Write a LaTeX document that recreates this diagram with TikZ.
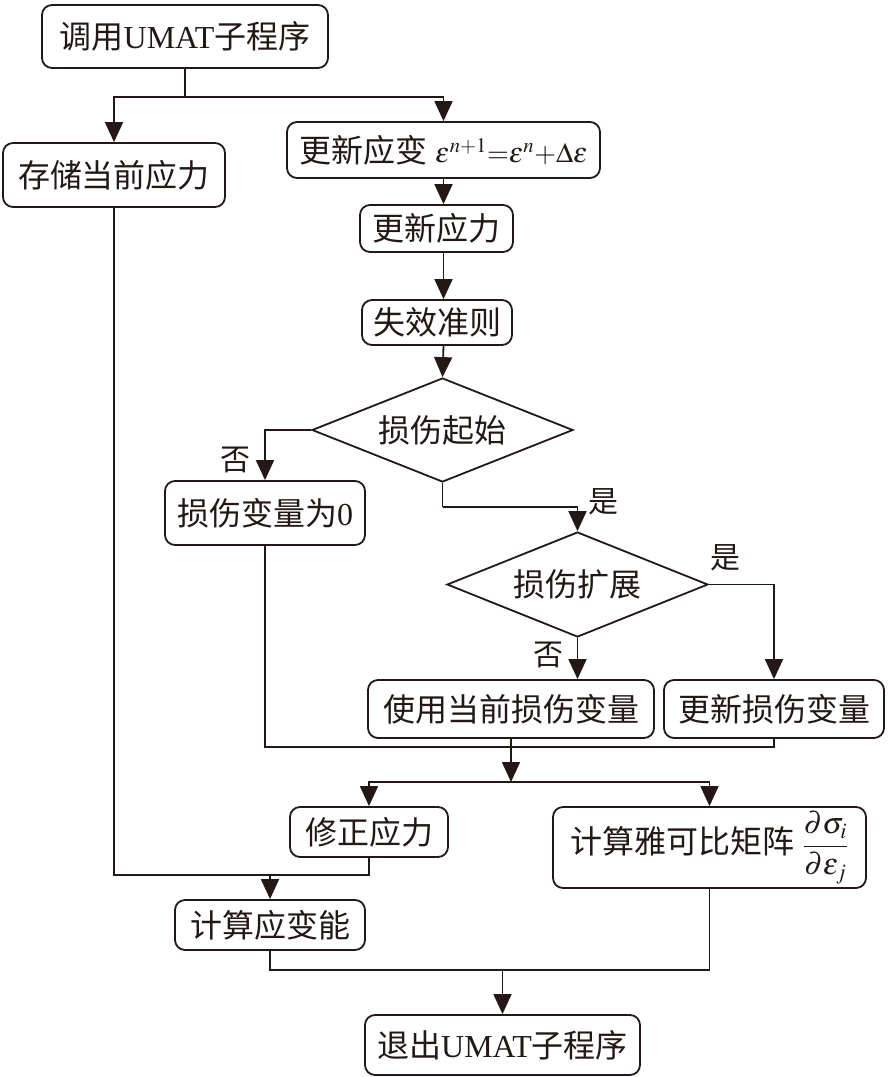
\documentclass[tikz,border=0pt]{standalone}
\usepackage{mathptmx}
\usepackage{fontspec}
\setmainfont{Liberation Serif}
\newfontfamily\cjk{Noto Sans CJK SC}
\usetikzlibrary{shapes.geometric,arrows.meta}
\definecolor{ink}{HTML}{231815}
\begin{document}
\begin{tikzpicture}[x=1pt,y=-1pt,
  box/.style={draw=ink, line width=1.8pt, rounded corners=10pt, inner sep=0pt, font=\fontsize{32}{38}\selectfont, text=ink},
  dia/.style={draw=ink, line width=1.8pt, diamond, shape aspect=2.5, inner sep=0pt, font=\fontsize{32}{38}\selectfont, text=ink},
  ln/.style={draw=ink, line width=1.8pt, line join=miter},
  arr/.style={ln, -{Triangle[width=18pt,length=20pt]}},
  lab/.style={font=\fontsize{30}{36}\selectfont\cjk, text=ink, inner sep=0pt}]
\useasboundingbox (0,0) rectangle (887,1077);
\node[box, minimum width=286pt, minimum height=63pt] (start) at (185,36.5) {{\cjk 调用}UMAT{\cjk 子程序}};
\node[box, minimum width=222pt, minimum height=64pt] (store) at (114,175) {\cjk 存储当前应力};
\node[box, minimum width=313pt, minimum height=56pt] (strain) at (443.5,150) {{\cjk 更新应变} {\fontsize{28}{34}\selectfont$\varepsilon^{n+1}{=}\varepsilon^{n}{+}\Delta\varepsilon$}};
\node[box, minimum width=153pt, minimum height=47pt] (stress) at (436.5,228.5) {\cjk 更新应力};
\node[box, minimum width=150pt, minimum height=45pt] (fail) at (437,322.5) {\cjk 失效准则};
\node[dia, minimum width=261pt, minimum height=104pt] (d1) at (442.5,430) {\cjk 损伤起始};
\node[box, minimum width=200pt, minimum height=64pt] (zero) at (265,513) {{\cjk 损伤变量为}0};
\node[dia, minimum width=261pt, minimum height=105pt] (d2) at (577.5,584.5) {\cjk 损伤扩展};
\node[box, minimum width=286pt, minimum height=58pt] (use) at (511,709) {\cjk 使用当前损伤变量};
\node[box, minimum width=220pt, minimum height=58pt] (upd) at (774,709) {\cjk 更新损伤变量};
\node[box, minimum width=158pt, minimum height=50pt] (fix) at (369,832) {\cjk 修正应力};
\node[box, minimum width=313pt, minimum height=81pt] (jac) at (709.5,847.5) {{\cjk 计算雅可比矩阵} {\fontsize{30}{36}\selectfont$\displaystyle\frac{\partial\sigma_i}{\partial\varepsilon_j}$}};
\node[box, minimum width=190pt, minimum height=50pt] (energy) at (270,925) {\cjk 计算应变能};
\node[box, minimum width=275pt, minimum height=60pt] (exit) at (502.5,1045) {{\cjk 退出}UMAT{\cjk 子程序}};
% joints
\coordinate (j1) at (start.south |- 0,97);
\coordinate (j2) at (use.south |- 0,747);
\coordinate (j3) at (use.south |- 0,782);
\coordinate (j4) at (store.south |- 0,875);
\coordinate (j5) at (exit.north |- 0,970);
\coordinate (j6) at (d1.south |- 0,507);
% connectors
\draw[ln] (start.south) -- (j1);
\draw[arr] (j1) -| (store.north);
\draw[arr] (j1) -| (strain.north);
\draw[arr] (strain.south) -- (strain.south |- stress.north);
\draw[arr] (strain.south |- stress.south) -- (strain.south |- fail.north);
\draw[arr] (strain.south |- fail.south) -- (d1.north);
\draw[arr] (d1.west) -| (zero.north);
\node[lab] (no1) at (235,460) {否};
\draw[ln] (d1.south) -- (j6);
\draw[arr] (j6) -| (d2.north);
\node[lab] (yes1) at (603,502) {是};
\draw[arr] (d2.east) -| (upd.north);
\node[lab] (yes2) at (725,558) {是};
\draw[arr] (d2.south) -- (d2.south |- use.north);
\node[lab] (no2) at (548,655) {否};
\draw[ln] (zero.south) -- (zero.south |- j2) -- (upd.south |- j2) -- (upd.south);
\draw[ln] (use.south) -- (j2);
\draw[arr] (j2) -- (j3);
\draw[arr] (j3) -| (fix.north);
\draw[arr] (j3) -| (jac.north);
\draw[ln] (store.south) -- (j4) -- (fix.south |- j4) -- (fix.south);
\draw[arr] (energy.north |- j4) -- (energy.north);
\draw[ln] (energy.south) -- (energy.south |- j5) -- (jac.south |- j5) -- (jac.south);
\draw[arr] (j5) -- (exit.north);
\end{tikzpicture}
\end{document}
